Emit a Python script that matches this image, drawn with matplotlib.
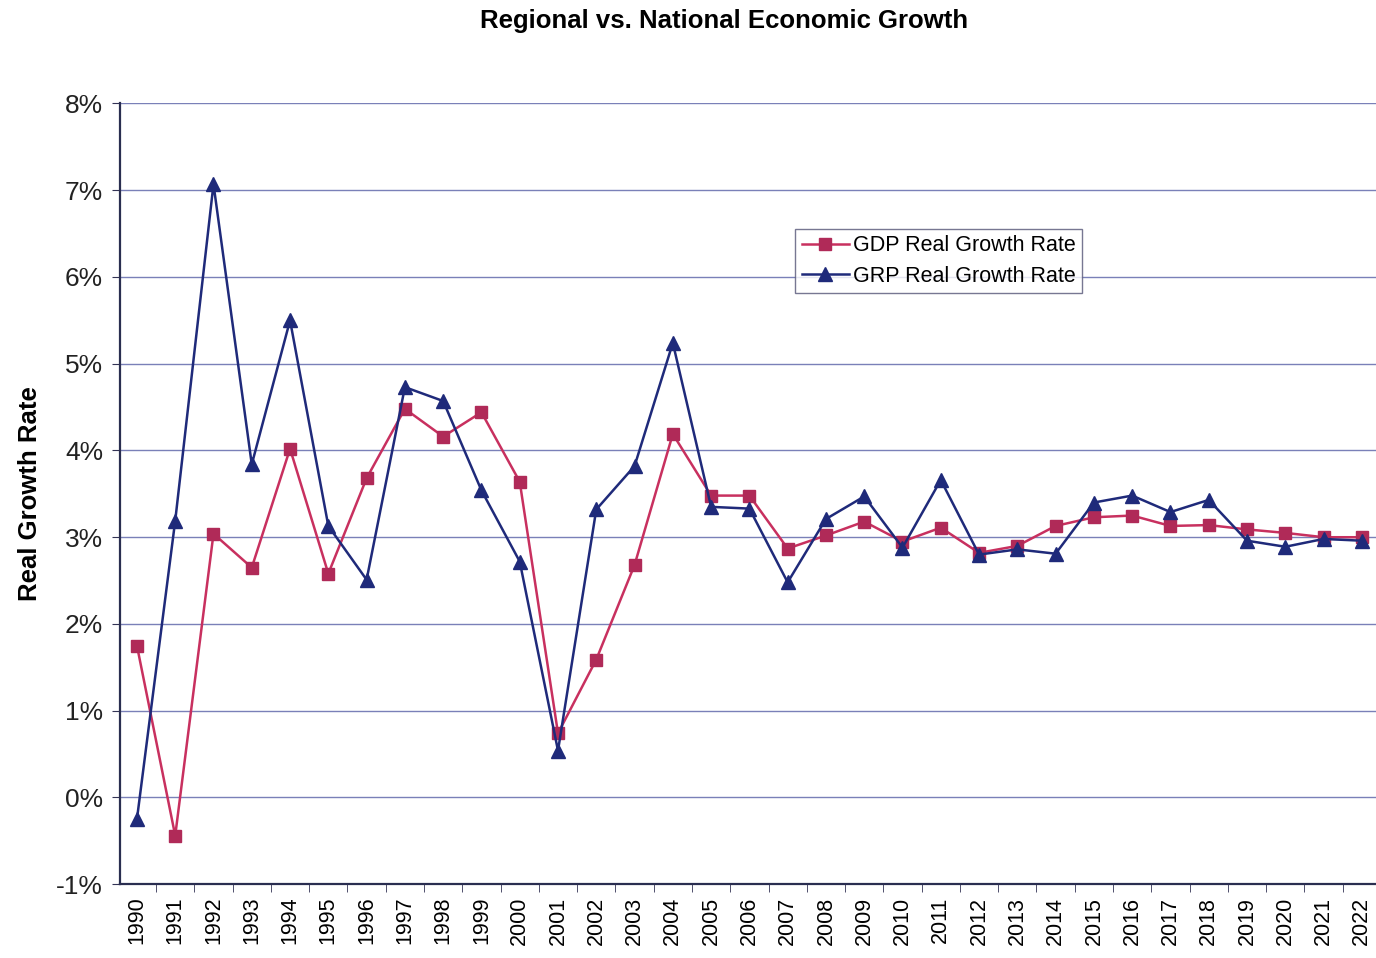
import numpy as np
import matplotlib.pyplot as plt
from matplotlib.ticker import FixedLocator, PercentFormatter

# Data
years = list(range(1990, 2023))
gdp_growth = [1.75, -0.44, 3.04, 2.65, 4.02, 2.58, 3.68, 4.48, 4.16, 4.44,
              3.64, 0.74, 1.59, 2.68, 4.19, 3.48, 3.48, 2.87, 3.02, 3.18,
              2.95, 3.11, 2.82, 2.90, 3.13, 3.23, 3.25, 3.13, 3.14, 3.09,
              3.05, 3.00, 3.00]
grp_growth = [-0.25, 3.19, 7.07, 3.84, 5.50, 3.13, 2.51, 4.73, 4.57, 3.54,
              2.72, 0.54, 3.32, 3.82, 5.24, 3.35, 3.33, 2.48, 3.21, 3.47,
              2.88, 3.66, 2.80, 2.86, 2.81, 3.40, 3.48, 3.29, 3.43, 2.96,
              2.89, 2.98, 2.96]

plt.rcParams['font.family'] = ['Liberation Sans', 'DejaVu Sans']
plt.rcParams['axes.unicode_minus'] = False

fig = plt.figure(figsize=(13.76, 9.58), dpi=100)
ax = fig.add_axes([0.087, 0.077, 0.913, 0.815])

x = np.arange(len(years))
gdp_color = '#C8305F'
grp_color = '#1F2A7A'

ax.plot(x, gdp_growth, color=gdp_color, lw=1.8, marker='s', markersize=8.5,
        markerfacecolor='#B02A58', markeredgecolor='#B02A58', label='GDP Real Growth Rate', zorder=3)
ax.plot(x, grp_growth, color=grp_color, lw=1.8, marker='^', markersize=10,
        markerfacecolor=grp_color, markeredgecolor=grp_color, label='GRP Real Growth Rate', zorder=4)

ax.set_xlim(-0.45, len(years) - 1 + 0.37)
ax.set_ylim(-1, 8)

ax.set_yticks(range(-1, 9))
ax.yaxis.set_major_formatter(PercentFormatter(decimals=0))
ax.grid(axis='y', color='#7A80B8', lw=1.0)
ax.set_axisbelow(True)

ax.set_xticks(x)
ax.set_xticklabels([str(y) for y in years], rotation=90, fontsize=15.5)
ax.xaxis.set_minor_locator(FixedLocator(np.arange(-0.5, len(years), 1)))
ax.tick_params(axis='x', which='major', length=0, pad=9)
ax.tick_params(axis='x', which='minor', length=6, color='#333355')
ax.tick_params(axis='y', labelsize=19, length=6, color='#333355', pad=6, labelcolor='#222222')

for s in ['top', 'right']:
    ax.spines[s].set_visible(False)
for s in ['left', 'bottom']:
    ax.spines[s].set_color('#2A2E50')
    ax.spines[s].set_linewidth(1.6)

ax.set_ylabel('Real Growth Rate', fontsize=18.5, fontweight='bold', labelpad=10)
fig.text(0.526, 0.978, 'Regional vs. National Economic Growth', fontsize=18.5,
         fontweight='bold', ha='center', va='center')

leg = ax.legend(loc='upper left', bbox_to_anchor=(0.529, 0.853), fontsize=15.5,
                frameon=True, fancybox=False, edgecolor='#555577', borderpad=0.3,
                handlelength=2.2, handletextpad=0.2, labelspacing=0.42)
leg.get_frame().set_linewidth(1.0)

fig.savefig('out.png', dpi=100, facecolor='white')
